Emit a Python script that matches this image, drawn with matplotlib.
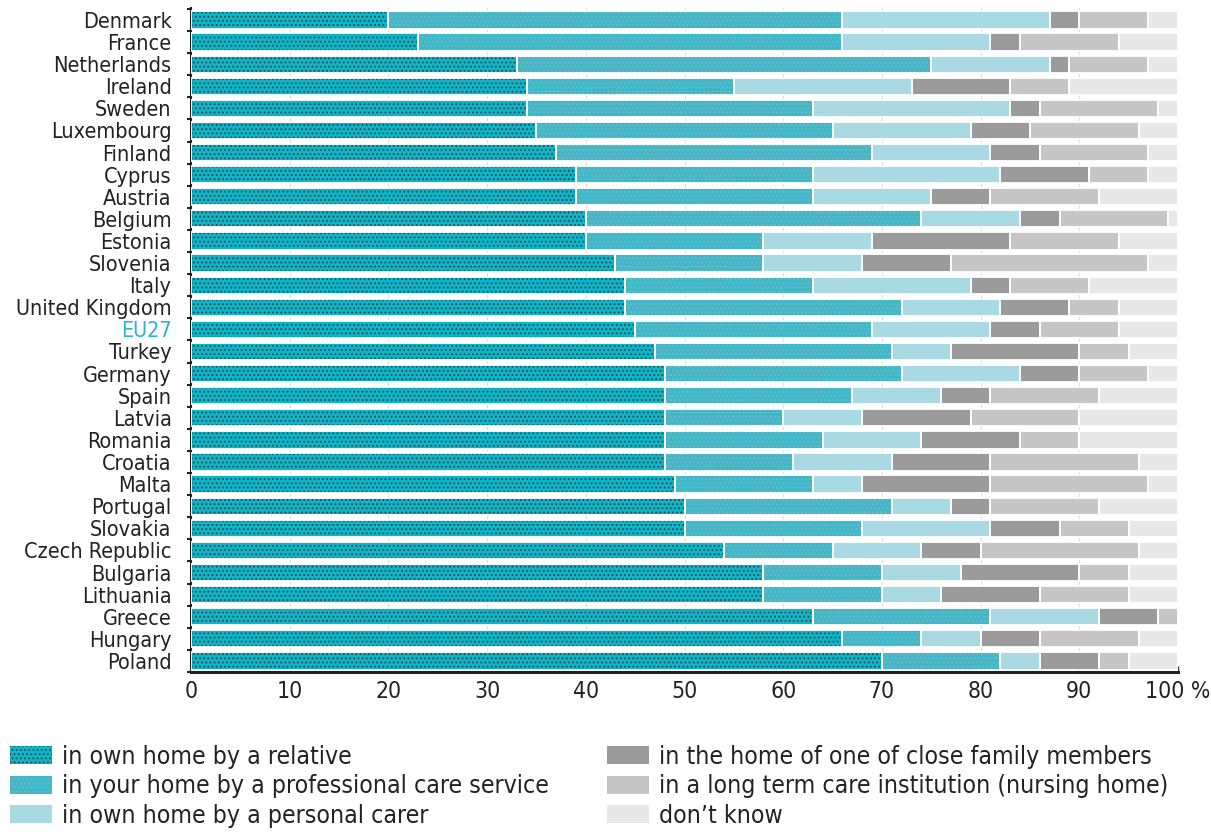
import matplotlib
matplotlib.use("Agg")
import matplotlib.pyplot as plt
import numpy as np

countries = ["Denmark", "France", "Netherlands", "Ireland", "Sweden", "Luxembourg",
             "Finland", "Cyprus", "Austria", "Belgium", "Estonia", "Slovenia", "Italy",
             "United Kingdom", "EU27", "Turkey", "Germany", "Spain", "Latvia", "Romania",
             "Croatia", "Malta", "Portugal", "Slovakia", "Czech Republic", "Bulgaria",
             "Lithuania", "Greece", "Hungary", "Poland"]

relative = [20, 23, 33, 34, 34, 35, 37, 39, 39, 40, 40, 43, 44, 44, 45, 47, 48, 48, 48, 48,
            48, 49, 50, 50, 54, 58, 58, 63, 66, 70]
professional = [46, 43, 42, 21, 29, 30, 32, 24, 24, 34, 18, 15, 19, 28, 24, 24, 24, 19, 12, 16,
                13, 14, 21, 18, 11, 12, 12, 18, 8, 12]
personal = [21, 15, 12, 18, 20, 14, 12, 19, 12, 10, 11, 10, 16, 10, 12, 6, 12, 9, 8, 10,
            10, 5, 6, 13, 9, 8, 6, 11, 6, 4]
family = [3, 3, 2, 10, 3, 6, 5, 9, 6, 4, 14, 9, 4, 7, 5, 13, 6, 5, 11, 10,
          10, 13, 4, 7, 6, 12, 10, 6, 6, 6]
institution = [7, 10, 8, 6, 12, 11, 11, 6, 11, 11, 11, 20, 8, 5, 8, 5, 7, 11, 11, 6,
               15, 16, 11, 7, 16, 5, 9, 2, 10, 3]
dont_know = [3, 6, 3, 11, 2, 4, 3, 3, 8, 1, 6, 3, 9, 6, 6, 5, 3, 8, 10, 10,
             4, 3, 8, 5, 4, 5, 5, 0, 4, 5]

x_ticks = [0, 10, 20, 30, 40, 50, 60, 70, 80, 90, 100]
x_tick_labels = ["0", "10", "20", "30", "40", "50", "60", "70", "80", "90", "100 %"]

series = [relative, professional, personal, family, institution, dont_know]
labels = ["in own home by a relative",
          "in your home by a professional care service",
          "in own home by a personal carer",
          "in the home of one of close family members",
          "in a long term care institution (nursing home)",
          "don\u2019t know"]
colors = ["#0fb4c6", "#3fb9ca", "#a9d9e3", "#9b9b9b", "#c6c6c6", "#e8e8e8"]
hatches = ["....", "....", None, None, None, None]
hatch_cols = ["#1d4d55", "#7fb4bd", None, None, None, None]

plt.rcParams['font.family'] = ['DejaVu Sans']
plt.rcParams['font.stretch'] = 'condensed'
plt.rcParams['hatch.linewidth'] = 0.8

fig = plt.figure(figsize=(12.11, 8.34), dpi=100)
ax = fig.add_axes([191/1211, (834-672)/834, (1178-191)/1211, (672-8)/834])

y = np.arange(len(countries))
left = np.zeros(len(countries))
handles = []
for vals, lab, col, h, hc in zip(series, labels, colors, hatches, hatch_cols):
    vals = np.array(vals, dtype=float)
    if h:
        b = ax.barh(y, vals, left=left, height=0.78, color=col, edgecolor=hc,
                    linewidth=0, hatch=h, zorder=2)
    else:
        b = ax.barh(y, vals, left=left, height=0.78, color=col, linewidth=0, zorder=2)
    ax.barh(y, vals, left=left, height=0.78, fill=False, edgecolor="white",
            linewidth=1.3, zorder=3)
    handles.append(b)
    left += vals

ax.set_xlim(0, 100)
ax.set_ylim(29.45, -0.54)
ax.set_yticks(y)
ax.set_yticklabels(countries, fontsize=15.5)
ax.set_yticks(np.arange(-0.5, len(countries), 1.0), minor=True)
for t in ax.get_yticklabels():
    if t.get_text() == "EU27":
        t.set_color("#2bb5c8")
    else:
        t.set_color("#222222")
ax.tick_params(axis='y', which='major', length=0, pad=14)
ax.tick_params(axis='y', which='minor', length=3, width=1.5, color="#222222",
               direction='out')
ax.set_xticks(x_ticks)
ax.set_xticklabels(x_tick_labels, fontsize=16.5, color="#222222")
ax.tick_params(axis='x', direction='in', length=4, width=1, color="#333333", pad=6)

ax.grid(axis='x', color="#dddddd", linewidth=0.8, zorder=0)
ax.set_axisbelow(True)
for s in ["top", "right"]:
    ax.spines[s].set_visible(False)
ax.spines["left"].set_linewidth(1.5)
ax.spines["left"].set_color("#222222")
ax.spines["bottom"].set_linewidth(2.2)
ax.spines["bottom"].set_color("#222222")

leg_kw = dict(frameon=False, fontsize=17.8, handlelength=1.7, handleheight=0.75,
              handletextpad=0.4, labelspacing=0.22, borderaxespad=0, borderpad=0,
              labelcolor="#222222")
l1 = fig.legend(handles[:3], labels[:3], loc='upper left',
                bbox_to_anchor=(10/1211, 1 - 745/834), **leg_kw)
l2 = fig.legend(handles[3:], labels[3:], loc='upper left',
                bbox_to_anchor=(607/1211, 1 - 745/834), **leg_kw)

fig.savefig("out.png", dpi=100)
